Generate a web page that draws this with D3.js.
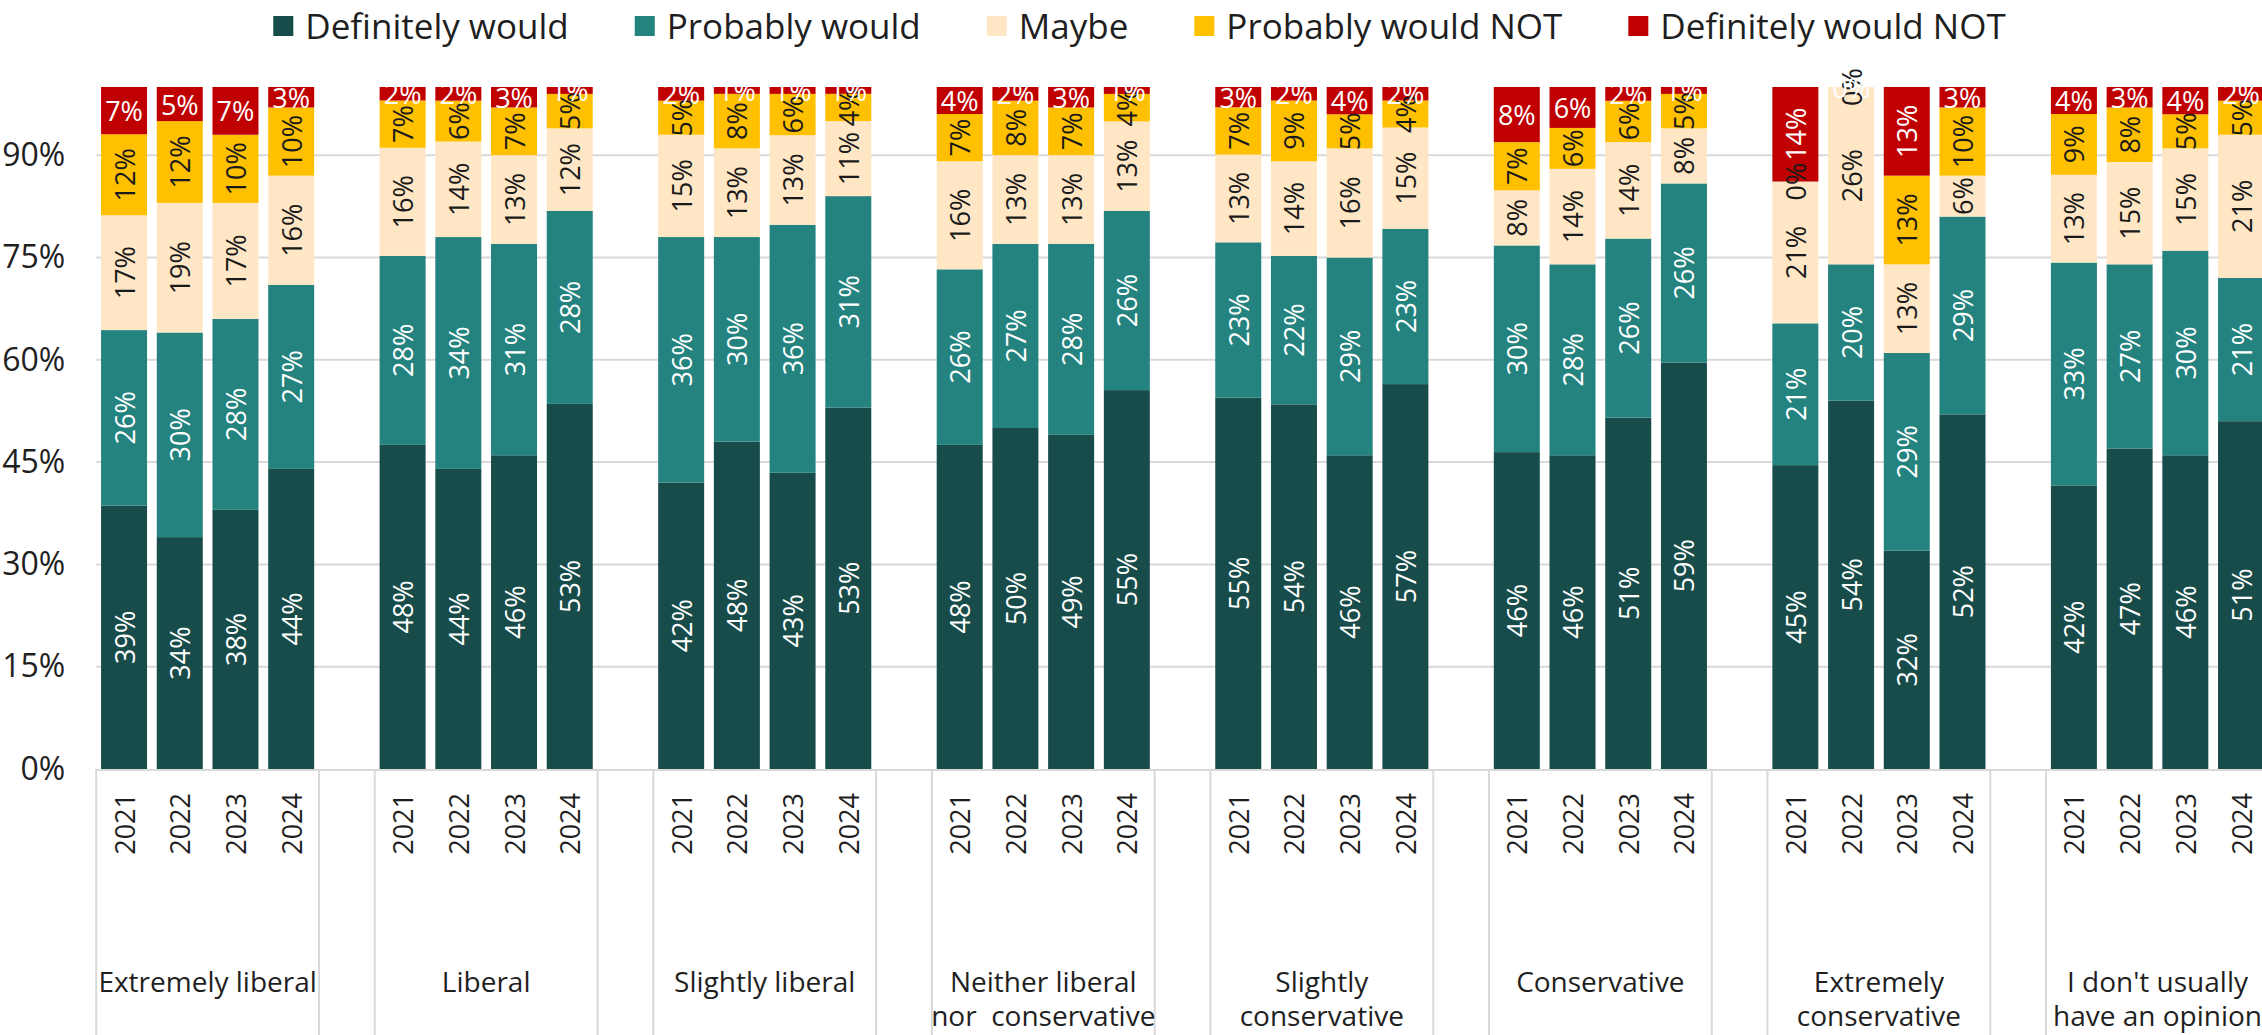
<!DOCTYPE html>
<html>
<head>
<meta charset="utf-8">
<script src="https://cdn.jsdelivr.net/npm/d3@7"></script>
<style>
  html, body { margin: 0; padding: 0; background: #ffffff; }
  svg { display: block; font-family: "Open Sans", "Lato", sans-serif; }
</style>
</head>
<body>
<svg id="chart" width="2262" height="1035"></svg>
<script>
// ---------------- DATA ----------------
const groupLabels = [
  ["Extremely liberal"],
  ["Liberal"],
  ["Slightly liberal"],
  ["Neither liberal", "nor  conservative"],
  ["Slightly", "conservative"],
  ["Conservative"],
  ["Extremely", "conservative"],
  ["I don't usually", "have an opinion"]
];
const years = ["2021", "2022", "2023", "2024"];
const seriesNames = ["Definitely would", "Probably would", "Maybe", "Probably would NOT", "Definitely would NOT"];

// values in percent, 4 years per group, groups in order above
const definitelyWould    = [39,34,38,44, 48,44,46,53, 42,48,43,53, 48,50,49,55, 55,54,46,57, 46,46,51,59, 45,54,32,52, 42,47,46,51];
const probablyWould      = [26,30,28,27, 28,34,31,28, 36,30,36,31, 26,27,28,26, 23,22,29,23, 30,28,26,26, 21,20,29,29, 33,27,30,21];
const maybe              = [17,19,17,16, 16,14,13,12, 15,13,13,11, 16,13,13,13, 13,14,16,15,  8,14,14, 8, 21,26,13, 6, 13,15,15,21];
const probablyWouldNot   = [12,12,10,10,  7, 6, 7, 5,  5, 8, 6, 4,  7, 8, 7, 4,  7, 9, 5, 4,  7, 6, 6, 5,  0, 0,13,10,  9, 8, 5, 5];
const definitelyWouldNot = [ 7, 5, 7, 3,  2, 2, 3, 1,  2, 1, 1, 1,  4, 2, 3, 1,  3, 2, 4, 2,  8, 6, 2, 1, 14, 0,13, 3,  4, 3, 4, 2];

const yTicks = [0, 0.15, 0.30, 0.45, 0.60, 0.75, 0.90];

// ---------------- STYLE ----------------
const seriesColors = ["#174c4a", "#24837f", "#ffe7c6", "#ffc000", "#c00000"];
const labelColors  = ["#ffffff", "#ffffff", "#1a1a1a", "#1a1a1a", "#ffffff"];
const gridColor = "#d9d9d9";
const textColor = "#1f1f1f";

// ---------------- LAYOUT ----------------
const W = 2262, H = 1035;
const plotLeft = 96.2;
const plotTop = 87, plotBottom = 769;
const slot = 55.71;
const groupStep = slot * 5;

const svg = d3.select("#chart");

const seriesArrays = [definitelyWould, probablyWould, maybe, probablyWouldNot, definitelyWouldNot];
const rows = [];
groupLabels.forEach((g, gi) => {
  years.forEach((yr, yi) => {
    const idx = gi * 4 + yi;
    const r = { group: gi, year: yr };
    seriesNames.forEach((s, si) => { r[s] = seriesArrays[si][idx]; });
    rows.push(r);
  });
});

const groupIds = groupLabels.map((d, i) => i);
const x0 = d3.scaleBand().domain(groupIds).range([plotLeft, plotLeft + groupStep * groupIds.length]).padding(0);
const x1 = d3.scaleBand().domain(years).range([0, slot * 4]).paddingInner(0.1743).paddingOuter(0.0872);
const y = d3.scaleLinear().domain([0, 1]).range([plotBottom, plotTop]);

const stack = d3.stack().keys(seriesNames).offset(d3.stackOffsetExpand);
const stacked = stack(rows);

// gridlines
svg.append("g").selectAll("line").data(yTicks.filter(t => t > 0)).join("line")
  .attr("x1", plotLeft).attr("x2", W)
  .attr("y1", d => y(d)).attr("y2", d => y(d))
  .attr("stroke", gridColor).attr("stroke-width", 2);

// y axis labels
const yAxis = d3.axisLeft(y).tickValues(yTicks).tickFormat(d3.format(".0%")).tickSize(0).tickPadding(31);
const yg = svg.append("g").attr("transform", `translate(${plotLeft},0)`).call(yAxis);
yg.select(".domain").remove();
yg.selectAll("text").attr("font-size", 32).attr("fill", textColor).attr("font-family", "'Open Sans', sans-serif");

// bars
const barX = d => x0(d.data.group) + x1(d.data.year);
const layers = svg.append("g").selectAll("g").data(stacked).join("g")
  .attr("fill", (d, i) => seriesColors[i]);
layers.selectAll("rect").data(d => d).join("rect")
  .attr("x", barX)
  .attr("width", x1.bandwidth())
  .attr("y", d => y(d[1]))
  .attr("height", d => y(d[0]) - y(d[1]));

// x axis baseline
svg.append("line")
  .attr("x1", plotLeft).attr("x2", W)
  .attr("y1", plotBottom + 1).attr("y2", plotBottom + 1)
  .attr("stroke", gridColor).attr("stroke-width", 2);

// group divider lines
const dividers = [];
groupIds.forEach(g => { dividers.push(x0(g)); dividers.push(x0(g) + slot * 4); });
svg.append("g").selectAll("line").data(dividers).join("line")
  .attr("x1", d => d).attr("x2", d => d)
  .attr("y1", plotBottom).attr("y2", H)
  .attr("stroke", gridColor).attr("stroke-width", 2);

// data labels
const labelLayers = svg.append("g").selectAll("g").data(stacked).join("g");
labelLayers.each(function (layer, si) {
  d3.select(this).selectAll("text").data(layer).join("text")
    .attr("transform", d => {
      const cx = barX(d) + x1.bandwidth() / 2;
      const cy = y((d[0] + d[1]) / 2);
      const v = d.data[layer.key];
      const horizontal = (si === 4 && v < 10);
      return horizontal ? `translate(${cx},${cy})` : `translate(${cx},${cy}) rotate(-90)`;
    })
    .attr("text-anchor", "middle")
    .attr("dominant-baseline", "central")
    .attr("font-size", 27)
    .attr("fill", labelColors[si])
    .text(d => d.data[layer.key] + "%");
});

// year labels
svg.append("g").selectAll("text").data(rows).join("text")
  .attr("transform", d => `translate(${x0(d.group) + x1(d.year) + x1.bandwidth() / 2},793) rotate(-90)`)
  .attr("text-anchor", "end")
  .attr("dominant-baseline", "central")
  .attr("font-size", 27)
  .attr("fill", textColor)
  .text(d => d.year);

// group labels
const gl = svg.append("g").selectAll("text").data(groupIds).join("text")
  .attr("x", g => x0(g) + slot * 2)
  .attr("y", 992)
  .attr("text-anchor", "middle")
  .attr("font-size", 28)
  .attr("fill", textColor)
  .style("white-space", "pre");
gl.selectAll("tspan").data(g => groupLabels[g].map((t, i) => ({ t, i, g }))).join("tspan")
  .attr("x", d => x0(d.g) + slot * 2)
  .attr("dy", d => d.i === 0 ? 0 : 34)
  .text(d => d.t);

// legend
const legend = svg.append("g");
const items = legend.selectAll("g").data(seriesNames).join("g");
items.append("rect").attr("width", 20).attr("height", 20).attr("y", 16)
  .attr("fill", (d, i) => seriesColors[i]);
items.append("text").attr("x", 32).attr("y", 38.5)
  .attr("font-size", 35).attr("fill", textColor).text(d => d);
let cursor = 0;
const widths = [];
items.each(function () {
  const w = 32 + this.querySelector("text").getComputedTextLength();
  widths.push(w);
});
const totalW = d3.sum(widths) + 66 * (widths.length - 1);
cursor = 1139.5 - totalW / 2;
items.attr("transform", (d, i) => {
  const t = `translate(${cursor},0)`;
  cursor += widths[i] + 66;
  return t;
});
</script>
</body>
</html>
